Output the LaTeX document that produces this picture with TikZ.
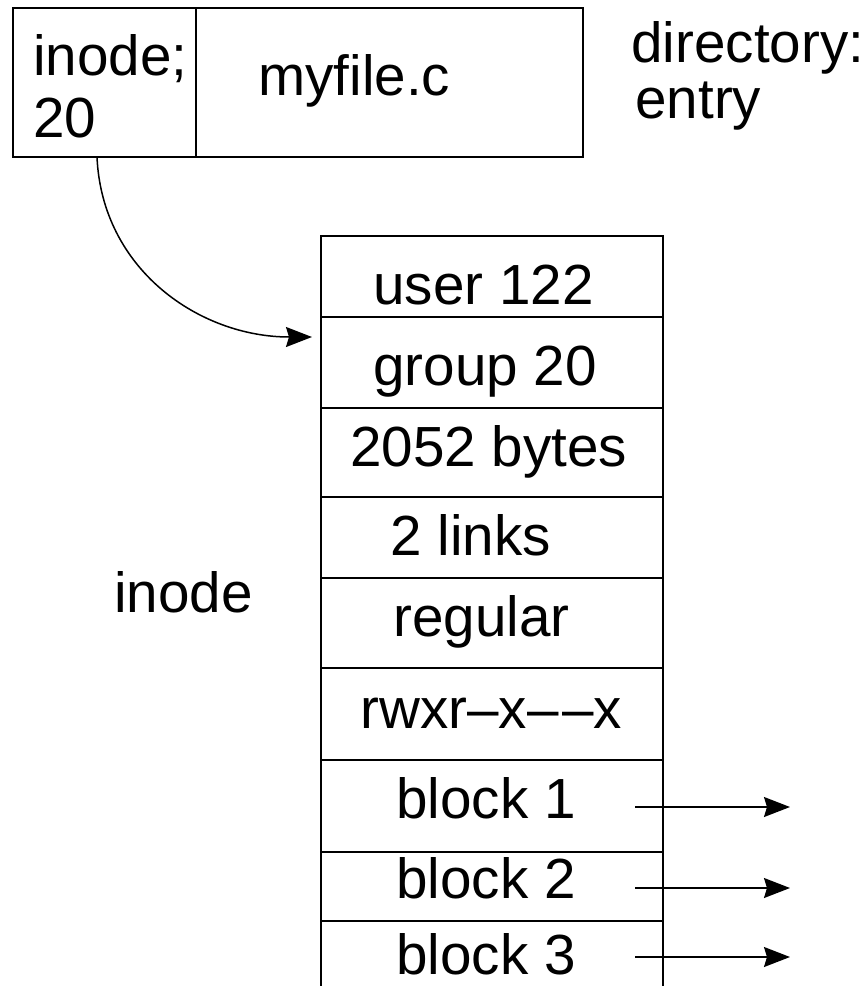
\documentclass[tikz,border=0pt]{standalone}
\usepackage{fontspec}
\setmainfont{Liberation Sans}
\usetikzlibrary{arrows.meta}

\tikzset{
    field/.style={anchor=base west, inner sep=0pt, font=\fontsize{28.3}{34}\selectfont},
    frame/.style={line width=0.9pt},
    ptr/.style={line width=0.75pt, -{Stealth[length=13pt, width=10pt, inset=1.5pt]}}
}

\begin{document}
\begin{tikzpicture}[x=0.5pt, y=-0.5pt]
    \useasboundingbox (0,0) rectangle (866,986);
    %directory entry
    \draw[frame] (13,8) rectangle (583,157);
    \draw[frame] (196,8) -- (196,157);
    \node[field] (inum) at (33,75) {inode;};
    \node[field] (inumval) at (33,137) {20};
    \node[field] (fname) at (258,95) {myfile.c};
    \node[field] (dirlbl) at (631,62) {directory:};
    \node[field] (entrylbl) at (635,118) {entry};
    %inode table
    \draw[frame] (321,986) -- (321,236) -- (663,236) -- (663,986);
    \foreach \y in {317,408,497,578,668,760,852,921}
        {%
            \draw[frame] (321,\y) -- (663,\y);
        }
    \foreach \lbl/\lx/\ly [count=\i] in {{user 122}/373/304, {group 20}/373/385,
        {2052 bytes}/350/466, {2 links}/390/555, {regular}/393/636,
        {rwxr\textendash x\textendash\hspace{2pt}\textendash x}/360/728}
        {%
            \node[field] (f\i) at (\lx,\ly) {\lbl};
        }
    \node[field] (inodelbl) at (114,612) {inode};
    %block pointers
    \foreach \n/\ly/\ay in {1/818/807, 2/898/888, 3/974/957}
        {%
            \node[field] (blk\n) at (396,\ly) {block \n};
            \coordinate (blk\n s) at (635,\ay);
            \coordinate (blk\n e) at (790,\ay);
            \draw[ptr] (blk\n s) -- (blk\n e);
        }
    %link from the entry to the inode
    \coordinate (linkstart) at (97,157);
    \coordinate (linkend) at (312,337);
    \draw[ptr] (linkstart) .. controls (102,270) and (200,337) .. (linkend);
\end{tikzpicture}
\end{document}
